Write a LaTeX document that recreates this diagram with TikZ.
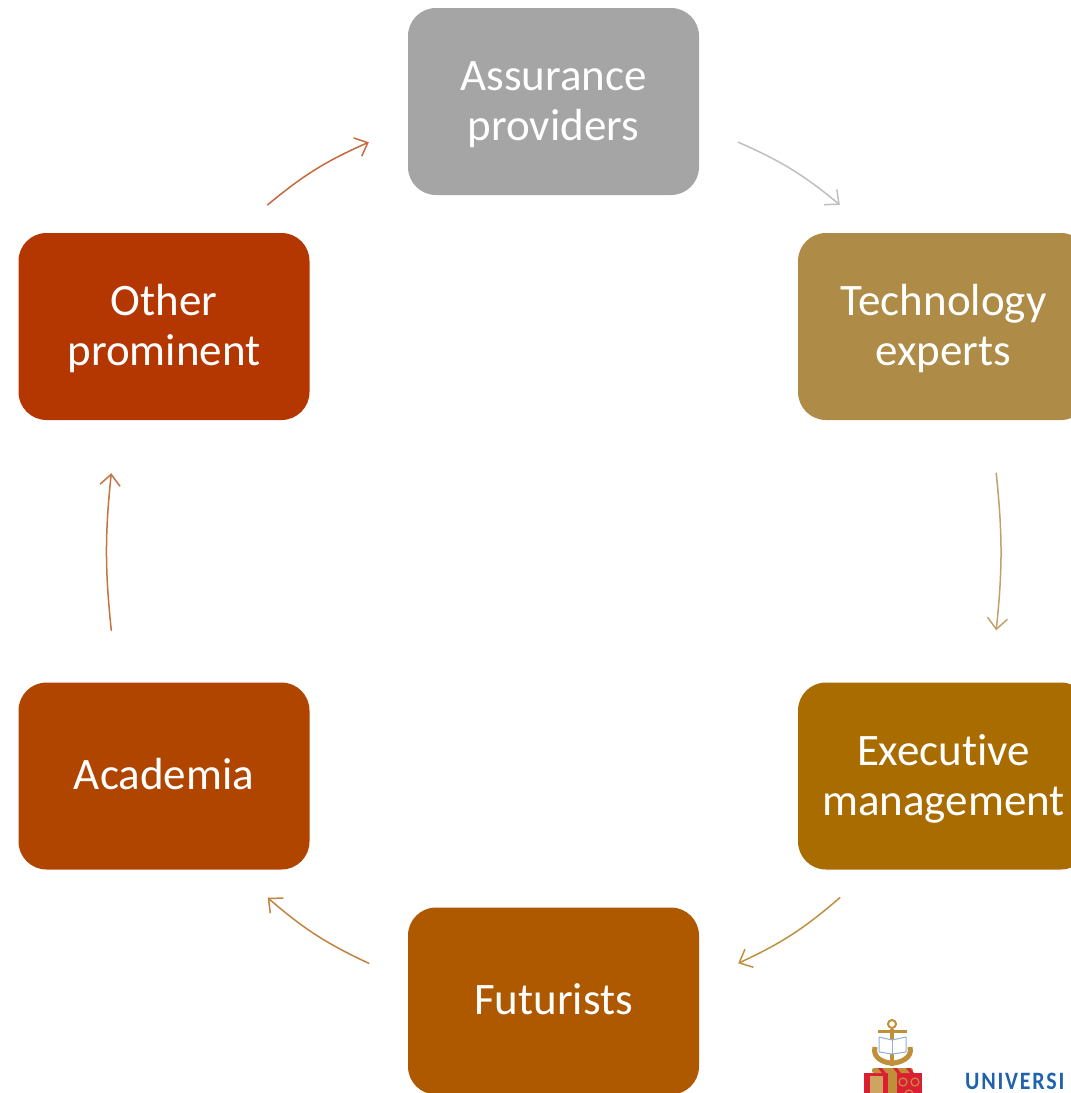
\documentclass[tikz,border=0pt]{standalone}
\usepackage{fontspec}
\setmainfont[Ligatures=NoCommon]{Carlito}
\newfontfamily\logofont[LetterSpace=7,FakeStretch=0.88]{Carlito}
\usetikzlibrary{arrows.meta}
\definecolor{assurcol}{HTML}{A5A5A5}
\definecolor{techcol}{HTML}{AE8B46}
\definecolor{execcol}{HTML}{A96C00}
\definecolor{futcol}{HTML}{AE5800}
\definecolor{acadcol}{HTML}{B04500}
\definecolor{othercol}{HTML}{B43600}
\definecolor{anchorcol}{HTML}{C08F3A}
\definecolor{shieldcol}{HTML}{DC1E35}
\definecolor{unicol}{HTML}{1F63AE}
\tikzset{
	stage/.style={draw=none,rounded corners=28pt,minimum width=291pt,minimum height=187pt,inner sep=0pt,
		text=white,align=center,font=\fontsize{45}{50}\selectfont},
	oneline/.style={stage,text depth=4pt},
	twoline/.style={stage,text height=86pt},
	link/.style={-{Straight Barb[length=11pt,width=20pt,line width=1.5pt]},line width=1.5pt,line cap=round}
}
\begin{document}
\begin{tikzpicture}[x=1pt,y=-1pt,line join=round]
	\useasboundingbox (0,0) rectangle (1071,1093);
	\node[twoline,fill=assurcol] (assur) at (553.5,101.5) {Assurance\\providers};
	\node[twoline,fill=techcol] (tech) at (943.5,326.5) {Technology\\experts};
	\node[twoline,fill=execcol] (exec) at (943.5,776) {Executive\\management};
	\node[oneline,fill=futcol] (fut) at (553.5,1001) {Futurists};
	\node[oneline,fill=acadcol] (acad) at (164,776) {Academia};
	\node[twoline,fill=othercol] (other) at (164,326.5) {Other\\prominent};
	% arrows stop short of the boxes
	\draw[link,draw=black!25] ([shift={(39,-53)}]assur.south east) to[bend left=8] ([shift={(42,-28)}]tech.north west);
	\draw[link,draw=techcol!80] ([shift={(-93,53)}]tech.south east) to[bend left=6] ([shift={(-93,-52)}]exec.north east);
	\draw[link,draw=execcol!75] ([shift={(42,28)}]exec.south west) to[bend left=8] ([shift={(39,56)}]fut.north east);
	\draw[link,draw=futcol!75] ([shift={(-39,56)}]fut.north west) to[bend left=8] ([shift={(-42,28)}]acad.south east);
	\draw[link,draw=acadcol!75] ([shift={(93,-52)}]acad.north west) to[bend left=6] ([shift={(93,53)}]other.south west);
	\draw[link,draw=othercol!75] ([shift={(-42,-28)}]other.north east) to[bend left=8] ([shift={(-39,-53)}]assur.south west);
	% logo
	\fill[shieldcol] (863.5,1073) rectangle (922,1093);
	\fill[anchorcol] (888,1073) rectangle (897,1093);
	\fill[anchorcol!80] (870,1076) rectangle (883,1093);
	\draw[anchorcol,line width=1.2pt] (903,1082) circle (4) (915,1082) circle (4) (909,1094) circle (4);
	\draw[anchorcol,line width=2pt] (892,1024) circle (4);
	\draw[anchorcol,line width=3pt] (878,1031) -- (907,1031);
	\draw[anchorcol,line width=4pt] (892,1029) -- (892,1066);
	\draw[anchorcol,line width=5pt] (875,1047) .. controls (872,1058) and (884,1063) .. (892,1063) .. controls (900,1063) and (913,1058) .. (910,1047);
	\fill[white,draw=unicol!50,line width=1pt] (879,1037) -- (892,1040) -- (906,1037) -- (906,1052) -- (892,1054) -- (879,1052) -- cycle;
	\draw[unicol!50,line width=0.7pt] (892,1040) -- (892,1054);
	\fill[anchorcol,rounded corners=2pt] (872,1068) rectangle (913,1073);
	\foreach \xpos in {878,893,906}
		\fill[shieldcol] (\xpos,1068) -- (\xpos+4,1068) -- (\xpos+8,1073) -- (\xpos+4,1073) -- cycle;
	\node[anchor=base west,inner sep=0pt,text=unicol,font=\logofont\bfseries\fontsize{25}{25}\selectfont] (uni) at (965,1089) {UNIVERSI};
\end{tikzpicture}
\end{document}
